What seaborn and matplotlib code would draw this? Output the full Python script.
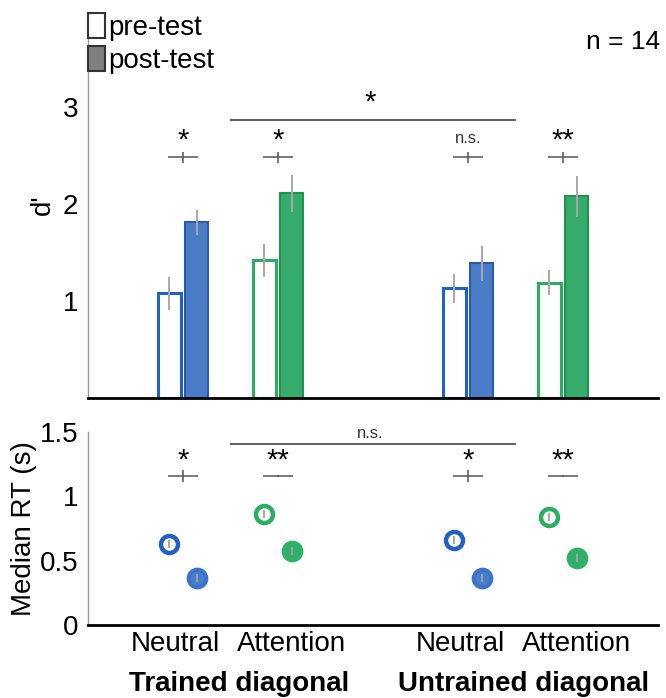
import numpy as np
import pandas as pd
import matplotlib
matplotlib.use("Agg")
import matplotlib.pyplot as plt
import seaborn as sns
from matplotlib.patches import Patch

# ---------------- data ----------------
conditions = ["Neutral", "Attention", "Neutral", "Attention"]
groups = ["Trained diagonal", "Untrained diagonal"]
group_pos = [0, 1, 3, 4]
cond_colors = ["blue", "green", "blue", "green"]

dprime_pre = [1.08, 1.42, 1.13, 1.19]
dprime_pre_err = [0.17, 0.17, 0.15, 0.13]
dprime_post = [1.81, 2.11, 1.39, 2.08]
dprime_post_err = [0.13, 0.19, 0.18, 0.21]

rt_pre = [0.63, 0.86, 0.66, 0.84]
rt_pre_err = [0.03, 0.03, 0.03, 0.03]
rt_post = [0.365, 0.575, 0.365, 0.52]
rt_post_err = [0.03, 0.03, 0.03, 0.03]

d_sig = ["*", "*", "n.s.", "**"]
d_sig_err = [0.06, 0.06, 0.06, 0.06]
rt_sig = ["*", "**", "*", "**"]
rt_sig_err = [0.05, 0.01, 0.05, 0.01]
d_between = "*"
rt_between = "n.s."
n_label = "n = 14"

# ---------------- style ----------------
sns.set_style("white")
plt.rcParams["font.family"] = ["Liberation Sans", "DejaVu Sans"]
plt.rcParams["text.color"] = "black"
plt.rcParams["axes.labelcolor"] = "black"

fill = {"blue": "#4a7cc8", "green": "#35ab6c"}
edge_filled = {"blue": "#2d5aa6", "green": "#22904f"}
edge_open = {"blue": "#2160c4", "green": "#2aae62"}
err_col = "#a8a8a8"
sig_col = "#555555"

W, H = 666, 698
fig = plt.figure(figsize=(W / 100, H / 100), dpi=100)
L, R = 88, 658
ax1 = fig.add_axes([L / W, 1 - 398 / H, (R - L) / W, (398 - 13) / H])
ax2 = fig.add_axes([L / W, 1 - 625 / H, (R - L) / W, (625 - 432) / H])

# ---------------- top: d' bars ----------------
df = pd.DataFrame({
    "pos": group_pos * 2,
    "phase": ["pre"] * 4 + ["post"] * 4,
    "dprime": dprime_pre + dprime_post,
})
sns.barplot(data=df, x="pos", y="dprime", hue="phase", hue_order=["pre", "post"],
            native_scale=True, dodge=True, width=0.57, gap=0.15,
            errorbar=None, legend=False, ax=ax1)

bar_x = {}
for p in ax1.patches:
    cx = p.get_x() + p.get_width() / 2
    gi = int(np.argmin([abs(cx - g) for g in group_pos]))
    phase = "pre" if cx < group_pos[gi] else "post"
    bar_x[(gi, phase)] = cx
    c = cond_colors[gi]
    if phase == "pre":
        p.set_facecolor("white")
        p.set_edgecolor(edge_open[c])
        p.set_linewidth(2.2)
    else:
        p.set_facecolor(fill[c])
        p.set_edgecolor(edge_filled[c])
        p.set_linewidth(1.5)

pre_x = [bar_x[(i, "pre")] for i in range(4)]
post_x = [bar_x[(i, "post")] for i in range(4)]
ax1.errorbar(pre_x, dprime_pre, yerr=dprime_pre_err, fmt="none",
             ecolor=err_col, elinewidth=1.4, capsize=0, zorder=5)
ax1.errorbar(post_x, dprime_post, yerr=dprime_post_err, fmt="none",
             ecolor=err_col, elinewidth=1.4, capsize=0, zorder=5)

# significance marks (top)
for i, g in enumerate(group_pos):
    ax1.hlines(2.48, g - 0.16, g + 0.16, color=sig_col, lw=1.1)
    ax1.vlines(g, 2.48 - d_sig_err[i], 2.48 + d_sig_err[i], color=sig_col, lw=1.1)
    if d_sig[i] == "n.s.":
        ax1.text(g, 2.60, d_sig[i], ha="center", va="bottom", fontsize=12, color="#333333")
    else:
        ax1.text(g, 2.51, d_sig[i], ha="center", va="bottom", fontsize=21, color="black")
ax1.hlines(2.87, 0.49, 3.5, color="#444444", lw=1.2)
ax1.text(1.97, 2.90, d_between, ha="center", va="bottom", fontsize=21)

ax1.set_xlim(-1.0, 5.0)
ax1.set_ylim(0, 3.97)
ax1.set_yticks([1, 2, 3])
ax1.set_yticklabels(["1", "2", "3"])
ax1.set_xticks([])
ax1.set_xlabel("")
ax1.set_ylabel("")
ax1.tick_params(axis="y", length=0, pad=7, labelsize=20, labelcolor="black")
for s in ["top", "right"]:
    ax1.spines[s].set_visible(False)
ax1.spines["left"].set_color("#9a9a9a")
ax1.spines["left"].set_linewidth(1.0)
ax1.spines["bottom"].set_color("black")
ax1.spines["bottom"].set_linewidth(2.0)
fig.text(43 / W, 1 - 205 / H, "d'", rotation=90, ha="center", va="center", fontsize=20)

# legend
handles = [Patch(facecolor="white", edgecolor="#333333", lw=1.5),
           Patch(facecolor="#808080", edgecolor="#333333", lw=1.5)]
fig.legend(handles, ["pre-test", "post-test"], loc="upper left",
           bbox_to_anchor=(88 / W, 1 - 13 / H), frameon=False, fontsize=20,
           handlelength=0.62, handleheight=1.0, handletextpad=0.1,
           labelspacing=0.2, borderpad=0, borderaxespad=0)
fig.text(660 / W, 1 - 42 / H, n_label, ha="right", va="center", fontsize=19)

# ---------------- bottom: median RT ----------------
for i in range(4):
    c = cond_colors[i]
    ax2.scatter([pre_x[i]], [rt_pre[i]], s=150, facecolors="white",
                edgecolors=edge_open[c], linewidths=3.2, zorder=3)
    ax2.scatter([post_x[i]], [rt_post[i]], s=160, facecolors=fill[c],
                edgecolors="#3b72cf" if c == "blue" else "#2bb366", linewidths=3.0, zorder=3)
ax2.errorbar(pre_x, rt_pre, yerr=rt_pre_err, fmt="none", ecolor="#999999",
             elinewidth=1.2, capsize=0, zorder=4)
ax2.errorbar(post_x, rt_post, yerr=rt_post_err, fmt="none", ecolor="#aaaaaa",
             elinewidth=1.2, capsize=0, zorder=4)

for i, g in enumerate(group_pos):
    ax2.hlines(1.158, g - 0.16, g + 0.16, color=sig_col, lw=1.1)
    ax2.vlines(g, 1.158 - rt_sig_err[i], 1.158 + rt_sig_err[i], color=sig_col, lw=1.1)
    ax2.text(g, 1.17, rt_sig[i], ha="center", va="bottom", fontsize=21)
ax2.hlines(1.406, 0.49, 3.5, color="#444444", lw=1.2)
ax2.text(1.97, 1.43, rt_between, ha="center", va="bottom", fontsize=12, color="#333333")

ax2.set_xlim(-1.0, 5.0)
ax2.set_ylim(0, 1.5)
ax2.set_yticks([0, 0.5, 1, 1.5])
ax2.set_yticklabels(["0", "0.5", "1", "1.5"])
label_shift = {"Neutral": -0.08, "Attention": 0.14}
ax2.set_xticks([g + label_shift[c] for g, c in zip(group_pos, conditions)])
ax2.set_xticklabels(conditions)
ax2.tick_params(axis="both", length=0, labelsize=20, labelcolor="black")
ax2.tick_params(axis="y", pad=7)
ax2.tick_params(axis="x", pad=4)
ax2.set_ylabel("Median RT (s)", fontsize=20, labelpad=2)
for s in ["top", "right"]:
    ax2.spines[s].set_visible(False)
ax2.spines["left"].set_color("#9a9a9a")
ax2.spines["left"].set_linewidth(1.0)
ax2.spines["bottom"].set_color("black")
ax2.spines["bottom"].set_linewidth(2.0)

for k, gname in enumerate(groups):
    cx = (group_pos[2 * k] + group_pos[2 * k + 1]) / 2 + 0.09
    ax2.text(cx, -0.455, gname, transform=ax2.transData, ha="center", va="center",
             fontsize=20, fontweight="bold", clip_on=False)

fig.savefig("out.png", dpi=100)
